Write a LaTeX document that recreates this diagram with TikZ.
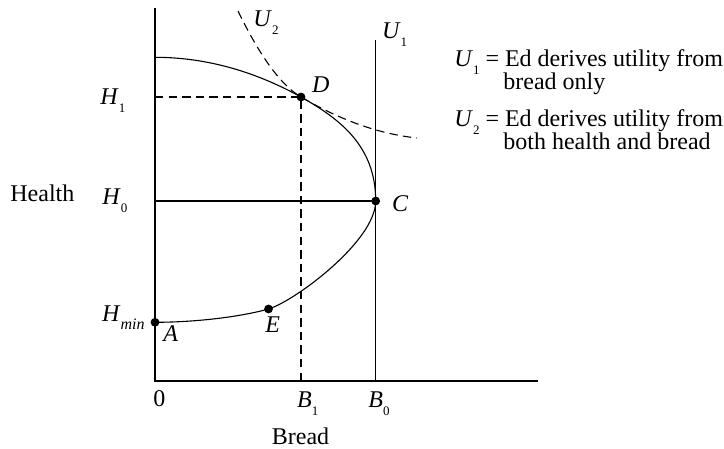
\documentclass[tikz,border=0pt]{standalone}
\usepackage{fontspec}
\setmainfont{Liberation Serif}
\newcommand{\varsub}[2]{\textit{#1}\raisebox{-4pt}{\fontsize{6.5}{6.5}\selectfont #2}}
\newcommand{\varmin}[2]{\textit{#1}\raisebox{-4pt}{\fontsize{8}{8}\selectfont\textit{#2}}}

\begin{document}
\begin{tikzpicture}[x=0.5pt,y=0.5pt,font=\fontsize{12}{14}\selectfont,
        lbl/.style={inner sep=0pt,anchor=base west},
        dashline/.style={line width=0.55pt,dash pattern=on 4.2pt off 2.6pt}]
            \useasboundingbox (-155,-68) rectangle (569,381);
            \coordinate (O) at (0,0);
            \coordinate (Ytop) at (0,372.5);
            \coordinate (Xend) at (383,0);
            \coordinate (T) at (0,323.7);
            \coordinate (D) at (146,284);
            \coordinate (C) at (220.7,180);
            \coordinate (E) at (113.5,72);
            \coordinate (A) at (0,58.7);
            \coordinate (H1) at (0,284);
            \coordinate (H0) at (0,180);
            \coordinate (B1) at (146,0);
            \coordinate (B0) at (220.7,0);
            \coordinate (U1top) at (220.7,340.5);
            \coordinate (U2start) at (83,370);
            \coordinate (U2end) at (262,243);

            \draw[line width=0.8pt] (Ytop) -- (O) -- (Xend);
            \draw[line width=0.65pt] (U1top) -- (B0);
            \draw[line width=0.65pt] (H0) -- (C);
            \draw[dashline] (H1) -- (D) -- (B1);
            \draw[dashline] (U2start) .. controls (100,335) and (122,298) .. (D)
                .. controls (175,267) and (215,248) .. (U2end);
            \draw[line width=0.55pt] (T) .. controls (60,323.7) and (110,304) .. (D)
                .. controls (185,262) and (220.7,235) .. (C)
                .. controls (220.7,140) and (140,80) .. (E)
                .. controls (85,64) and (40,58.7) .. (A);

            \fill (D) circle (4.4);
            \fill (C) circle (4.4);
            \fill (E) circle (4.4);
            \fill (A) circle (4.4);

            \node[lbl] (labD) at (156.7,288) {\textit{D}};
            \node[lbl] (labC) at (236.7,169.3) {\textit{C}};
            \node[lbl] (labE) at (110,48) {\textit{E}};
            \node[lbl] (labA) at (8,39) {\textit{A}};
            \node[lbl] (labU1) at (226.7,342.7) {\varsub{U}{1}};
            \node[lbl] (labU2) at (98,354.3) {\varsub{U}{2}};
            \node[lbl] (labH1) at (-55,276) {\varsub{H}{1}};
            \node[lbl] (labH0) at (-53,176) {\varsub{H}{0}};
            \node[lbl] (labHmin) at (-53.3,59) {\varmin{H}{min}};
            \node[lbl] (health) at (-145,179.3) {Health};
            \node[lbl] (lab0) at (-2,-26) {0};
            \node[lbl] (labB1) at (141.7,-27) {\varsub{B}{1}};
            \node[lbl] (labB0) at (213,-27) {\varsub{B}{0}};
            \node[inner sep=0pt,anchor=base] (bread) at (145.5,-64) {Bread};

            \node[lbl] (keyUa) at (299,314) {\varsub{U}{1} = Ed derives utility from};
            \node[lbl] (keyUb) at (348,291) {bread only};
            \node[lbl] (keyUc) at (299,254) {\varsub{U}{2} = Ed derives utility from};
            \node[lbl] (keyUd) at (348,231) {both health and bread};
        \end{tikzpicture}
\end{document}
